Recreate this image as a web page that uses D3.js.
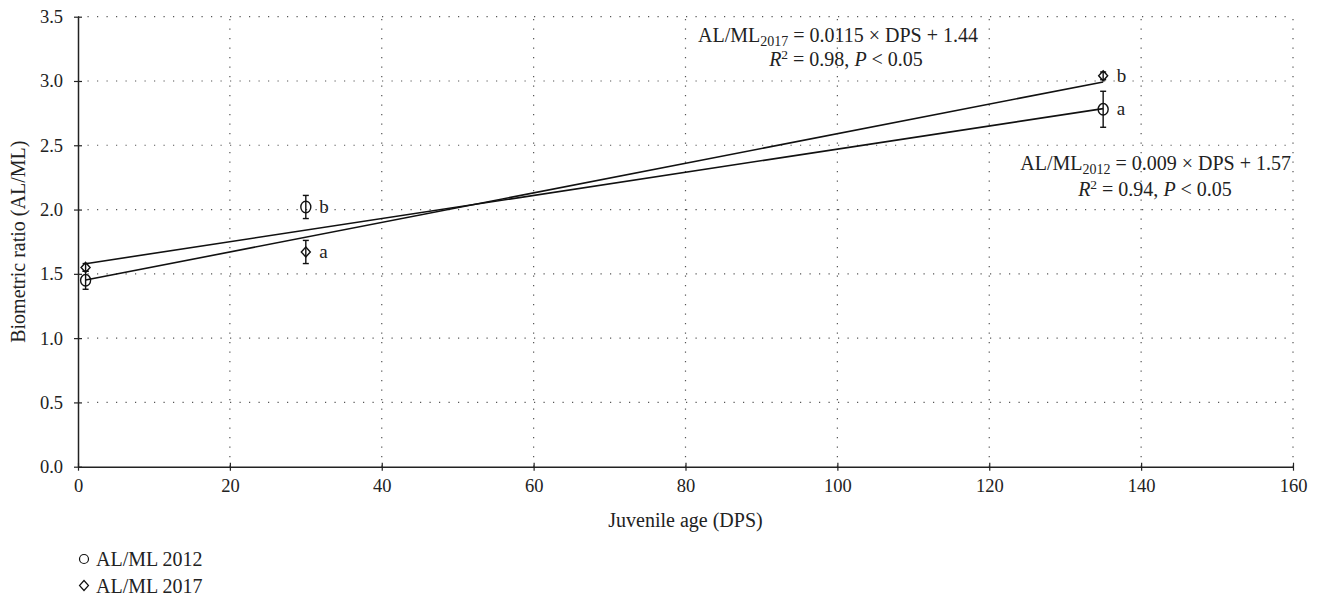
<!DOCTYPE html>
<html>
<head>
<meta charset="utf-8">
<script src="https://cdn.jsdelivr.net/npm/d3@7"></script>
<style>
  html, body { margin: 0; padding: 0; background: #fff; }
  svg { display: block; font-family: "Liberation Serif", "DejaVu Serif", serif; }
</style>
</head>
<body>
<svg id="chart" width="1319" height="603"></svg>
<script>
// Juvenile age (days post spawning) at which each sample was measured
const ages = [1, 30, 135];

// AL/ML biometric ratio means and error (±) per year
const mean2012 = [1.45, 2.02, 2.78];
const err2012  = [0.07, 0.09, 0.14];
const mean2017 = [1.55, 1.67, 3.04];
const err2017  = [0.03, 0.09, 0.03];

// Significance letters beside each mean
const letters2012 = ["", "b", "a"];
const letters2017 = ["", "a", "b"];

// Linear fits, evaluated over the sampled age range
const fit2017 = { slope: 0.0115, intercept: 1.44 };
const fit2012 = { slope: 0.009, intercept: 1.57 };

const xTicks = [0, 20, 40, 60, 80, 100, 120, 140, 160];
const yTicks = [0.0, 0.5, 1.0, 1.5, 2.0, 2.5, 3.0, 3.5];

const svg = d3.select("#chart");
const margin = { left: 78, right: 26, top: 16.7, bottom: 136.3 };
const W = 1319, H = 603;
const FS = 20;

const x = d3.scaleLinear().domain([0, 160]).range([margin.left, W - margin.right]);
const y = d3.scaleLinear().domain([0, 3.5]).range([H - margin.bottom, margin.top]);

// Dotted grid
const grid = svg.append("g").attr("stroke", "#555").attr("stroke-width", 1.2)
  .attr("stroke-dasharray", "1.2,8.3");
grid.selectAll("line.v").data(xTicks.filter(d => d > 0)).join("line")
  .attr("x1", d => x(d)).attr("x2", d => x(d))
  .attr("y1", y(0)).attr("y2", y(3.5));
grid.selectAll("line.h").data(yTicks.filter(d => d > 0)).join("line")
  .attr("x1", x(0)).attr("x2", x(160))
  .attr("y1", d => y(d)).attr("y2", d => y(d));

// Axes
const xAxis = svg.append("g").attr("transform", `translate(0,${y(0)})`)
  .call(d3.axisBottom(x).tickValues(xTicks).tickFormat(d3.format("d")).tickSizeInner(4).tickSizeOuter(0).tickPadding(8));
const yAxis = svg.append("g").attr("transform", `translate(${x(0)},0)`)
  .call(d3.axisLeft(y).tickValues(yTicks).tickFormat(d3.format(".1f")).tickSizeInner(4).tickSizeOuter(0).tickPadding(11));

[xAxis, yAxis].forEach(a => {
  a.select(".domain").attr("stroke", "#222").attr("stroke-width", 1.5);
  a.selectAll(".tick line").attr("stroke", "#222").attr("stroke-width", 1.2);
  a.selectAll(".tick text").attr("fill", "#222").attr("font-size", 18.5)
    .attr("font-family", "Liberation Serif, DejaVu Serif, serif");
});
// ticks cross the axis line
xAxis.selectAll(".tick line").attr("y1", -4).attr("y2", 4);
yAxis.selectAll(".tick line").attr("x1", -4).attr("x2", 4);

// Axis titles
svg.append("text").attr("x", (x(0) + x(160)) / 2).attr("y", 527)
  .attr("text-anchor", "middle").attr("font-size", FS).attr("fill", "#222")
  .text("Juvenile age (DPS)");
svg.append("text")
  .attr("transform", `translate(25,${(y(0) + y(3.5)) / 2}) rotate(-90)`)
  .attr("text-anchor", "middle").attr("font-size", FS).attr("fill", "#222")
  .text("Biometric ratio (AL/ML)");

// Regression lines
const xr = d3.extent(ages);
[fit2017, fit2012].forEach(f => {
  svg.append("line")
    .attr("x1", x(xr[0])).attr("y1", y(f.slope * xr[0] + f.intercept))
    .attr("x2", x(xr[1])).attr("y2", y(f.slope * xr[1] + f.intercept))
    .attr("stroke", "#111").attr("stroke-width", 1.6);
});

// Error bars + markers
function drawSeries(means, errs, letters, shape) {
  const g = svg.append("g");
  const data = ages.map((a, i) => ({ a, m: means[i], e: errs[i], l: letters[i] }));
  const eb = g.selectAll("g.eb").data(data).join("g");
  eb.append("line").attr("x1", d => x(d.a)).attr("x2", d => x(d.a))
    .attr("y1", d => y(d.m - d.e)).attr("y2", d => y(d.m + d.e))
    .attr("stroke", "#111").attr("stroke-width", 1.4);
  [-1, 1].forEach(s => {
    eb.append("line").attr("x1", d => x(d.a) - 3).attr("x2", d => x(d.a) + 3)
      .attr("y1", d => y(d.m + s * d.e)).attr("y2", d => y(d.m + s * d.e))
      .attr("stroke", "#111").attr("stroke-width", 1.4);
  });
  if (shape === "circle") {
    g.selectAll("ellipse").data(data).join("ellipse")
      .attr("cx", d => x(d.a)).attr("cy", d => y(d.m)).attr("rx", 5).attr("ry", 5.8)
      .attr("fill", "none").attr("stroke", "#111").attr("stroke-width", 1.4);
  } else {
    g.selectAll("path").data(data).join("path")
      .attr("d", d => {
        const cx = x(d.a), cy = y(d.m);
        return `M${cx},${cy - 5}L${cx + 4.5},${cy}L${cx},${cy + 5}L${cx - 4.5},${cy}Z`;
      })
      .attr("fill", "none").attr("stroke", "#111").attr("stroke-width", 1.4);
  }
  g.selectAll("text").data(data.filter(d => d.l)).join("text")
    .attr("x", d => x(d.a) + 13.5).attr("y", d => y(d.m) + 6)
    .attr("font-size", 19).attr("fill", "#222").text(d => d.l);
}
drawSeries(mean2012, err2012, letters2012, "circle");
drawSeries(mean2017, err2017, letters2017, "diamond");

// Fit equations
function equation(cx, cy, anchor, year, f) {
  const t1 = svg.append("text").attr("x", cx).attr("y", cy)
    .attr("text-anchor", anchor).attr("font-size", FS).attr("fill", "#222");
  t1.append("tspan").text("AL/ML");
  t1.append("tspan").attr("font-size", 14).attr("dy", 4).text(year);
  t1.append("tspan").attr("dy", -4).text(` = ${f.slope} × DPS + ${f.intercept.toFixed(2)}`);
}
function r2line(cx, cy, r2) {
  const t = svg.append("text").attr("x", cx).attr("y", cy)
    .attr("text-anchor", "middle").attr("font-size", FS).attr("fill", "#222");
  t.append("tspan").attr("font-style", "italic").text("R");
  t.append("tspan").attr("font-size", 13.5).attr("dy", -7).text("2");
  t.append("tspan").attr("dy", 7).text(` = ${r2}, `);
  t.append("tspan").attr("font-style", "italic").text("P");
  t.append("tspan").text(" < 0.05");
}
equation(838, 42, "middle", "2017", fit2017);
r2line(846, 66, "0.98");
equation(1291, 170, "end", "2012", fit2012);
r2line(1155, 196, "0.94");

// Legend
const legend = svg.append("g");
legend.append("circle").attr("cx", 84).attr("cy", 559).attr("r", 4.5)
  .attr("fill", "#fff").attr("stroke", "#111").attr("stroke-width", 1.2);
legend.append("path").attr("d", "M84,580.5L88.5,585.5L84,590.5L79.5,585.5Z")
  .attr("fill", "#fff").attr("stroke", "#111").attr("stroke-width", 1.2);
legend.append("text").attr("x", 96).attr("y", 566).attr("font-size", FS).attr("fill", "#222").text("AL/ML 2012");
legend.append("text").attr("x", 96).attr("y", 593).attr("font-size", FS).attr("fill", "#222").text("AL/ML 2017");
</script>
</body>
</html>
